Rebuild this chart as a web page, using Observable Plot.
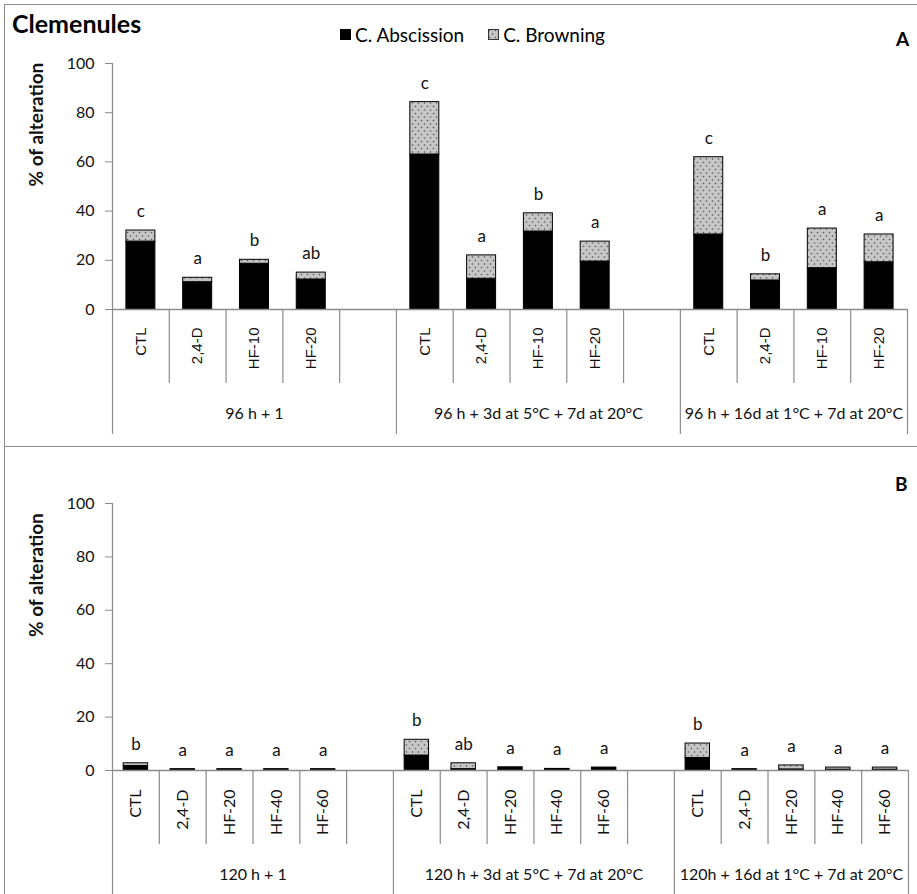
<!DOCTYPE html>
<html>
<head>
<meta charset="utf-8">
<script src="https://cdn.jsdelivr.net/npm/d3@7"></script>
<script src="https://cdn.jsdelivr.net/npm/@observablehq/plot@0.6"></script>
<style>
  body { margin: 0; background: #fff; }
  #root { position: relative; width: 917px; height: 894px; overflow: hidden; background: #fff; font-family: Lato, "Open Sans", sans-serif; color: #000; }
  .abs { position: absolute; white-space: nowrap; }
  .box { position: absolute; border: 1px solid #8c8c8c; box-sizing: border-box; }
</style>
</head>
<body>
<div id="root">
  <svg width="0" height="0" style="position:absolute">
    <defs>
      <pattern id="dots" width="6" height="7" patternUnits="userSpaceOnUse">
        <rect width="6" height="7" fill="#c6c6c6"></rect>
        <circle cx="1.5" cy="1.5" r="0.8" fill="#555"></circle>
        <circle cx="4.5" cy="5" r="0.8" fill="#555"></circle>
      </pattern>
    </defs>
  </svg>
  <div class="box" style="left:4px;top:4px;width:914px;height:443px;"></div>
  <div class="box" style="left:4px;top:446px;width:914px;height:460px;"></div>
  <div id="panelA" class="abs" style="left:0;top:0;"></div>
  <div id="panelB" class="abs" style="left:0;top:446px;"></div>
  <div class="abs" style="left:12px;top:11px;font-size:25px;line-height:25px;font-weight:bold;">Clemenules</div>
  <div class="abs" style="left:340px;top:25px;font-size:19px;line-height:19px;display:flex;align-items:center;">
    <span style="display:inline-block;width:11px;height:11px;background:#000;margin-right:4px;"></span>
    <span>C. Abscission</span>
    <svg width="11" height="11" style="margin-left:24px;margin-right:4px;"><rect x="0.5" y="0.5" width="10" height="10" fill="url(#dots)" stroke="#333"></rect></svg>
    <span>C. Browning</span>
  </div>
  <div class="abs" style="left:896px;top:29px;font-size:19px;line-height:19px;font-weight:bold;">A</div>
  <div class="abs" style="left:895px;top:474px;font-size:19px;line-height:19px;font-weight:bold;">B</div>
</div>
<script>
// ---------------- DATA ----------------
const seriesNames = ["C. Abscission", "C. Browning"];
const yTicks = [0, 20, 40, 60, 80, 100];
const yLabel = "% of alteration";

const groupsA = ["96 h + 1", "96 h + 3d at 5°C + 7d at 20°C", "96 h + 16d at 1°C + 7d at 20°C"];
const treatmentsA = ["CTL", "2,4-D", "HF-10", "HF-20"];
const abscissionA = [
  [27.6, 11.1, 18.6, 12.2],
  [63.0, 12.5, 31.7, 19.5],
  [30.5, 11.8, 16.8, 19.2]
];
const browningA = [
  [4.5, 1.8, 1.6, 2.8],
  [21.3, 9.5, 7.4, 8.1],
  [31.4, 2.5, 16.1, 11.3]
];
const lettersA = [
  ["c", "a", "b", "ab"],
  ["c", "a", "b", "a"],
  ["c", "b", "a", "a"]
];

const groupsB = ["120 h + 1", "120 h + 3d at 5°C + 7d at 20°C", "120h + 16d at 1°C + 7d at 20°C"];
const treatmentsB = ["CTL", "2,4-D", "HF-20", "HF-40", "HF-60"];
const abscissionB = [
  [1.7, 0.5, 0.5, 0.5, 0.5],
  [5.6, 0.5, 1.2, 0.4, 1.1],
  [4.7, 0.5, 0.4, 0.3, 0.3]
];
const browningB = [
  [1.0, 0, 0, 0, 0],
  [5.9, 2.2, 0, 0.2, 0],
  [5.4, 0, 1.5, 0.8, 0.8]
];
const lettersB = [
  ["b", "a", "a", "a", "a"],
  ["b", "ab", "a", "a", "a"],
  ["b", "a", "a", "a", "a"]
];

// ---------------- BUILD ----------------
function buildPanel(cfg) {
  const {groups, treatments, absc, brown, letters, height, marginTop, marginBottom, marginRight, inset, catFont, catSize, catDy} = cfg;
  const bars = [], slots = [], bounds = [{x: 0, long: true}], groupMeta = [];
  let i = 0;
  groups.forEach((g, gi) => {
    const start = i;
    treatments.forEach((t, ti) => {
      const a = absc[gi][ti], b = brown[gi][ti];
      bars.push({i, series: seriesNames[0], y1: 0, y2: a});
      bars.push({i, series: seriesNames[1], y1: a, y2: a + b});
      slots.push({i, t, total: a + b, letter: letters[gi][ti]});
      i++;
      bounds.push({x: i, long: false});
    });
    if (gi < groups.length - 1) { i++; bounds.push({x: i, long: false}); }
    bounds[bounds.length - 1].long = true;
    groupMeta.push({c: (start + i) / 2, label: g});
  });
  const n = i;
  const plotH = height - marginTop - marginBottom;
  const perUnit = plotH / 100;
  const shortU = -74 / perUnit, longU = -125 / perUnit;

  return Plot.plot({
    width: 917,
    height,
    marginLeft: 112,
    marginRight,
    marginTop,
    marginBottom,
    x: {domain: [0, n], axis: null},
    y: {domain: [0, 100], axis: null},
    color: {domain: seriesNames, range: ["#000", "url(#dots)"]},
    style: {fontFamily: "Lato, 'Open Sans', sans-serif", fontSize: "16px", background: "transparent", overflow: "visible", color: "#111"},
    marks: [
      Plot.ruleX([0], {stroke: "#8c8c8c", strokeWidth: 1.3}),
      Plot.axisY({ticks: yTicks, tickSize: 7, tickPadding: 11, fontSize: 16, stroke: "#8c8c8c", label: null, tickFormat: d => d}),
      Plot.text([yLabel], {frameAnchor: "left", rotate: -90, dx: -76, fontWeight: "bold", fontSize: 19}),
      Plot.rect(bars, {x1: "i", x2: d => d.i + 1, y1: "y1", y2: "y2", fill: "series", stroke: "#000", strokeWidth: 1, insetLeft: inset, insetRight: inset}),
      Plot.ruleY([0], {stroke: "#8c8c8c", strokeWidth: 1.3}),
      Plot.ruleX(bounds, {x: "x", y1: 0, y2: d => d.long ? longU : shortU, stroke: "#8c8c8c", strokeWidth: 1.2}),
      Plot.text(slots, {x: d => d.i + 0.5, y: "total", text: "letter", dy: -19, fontSize: 17}),
      Plot.text(slots, {x: d => d.i + 0.5, y: 0, text: "t", rotate: -90, textAnchor: "end", dy: catDy, fontSize: catSize, fontFamily: catFont}),
      Plot.text(groupMeta, {x: "c", y: 0, text: "label", dy: 104, fontSize: 16})
    ]
  });
}

document.getElementById("panelA").append(buildPanel({
  groups: groupsA, treatments: treatmentsA, absc: abscissionA, brown: browningA, letters: lettersA,
  height: 446, marginTop: 63, marginBottom: 137, marginRight: 10, inset: 13.9,
  catFont: "'Liberation Sans', Arial, sans-serif", catSize: 15, catDy: 18
}));
document.getElementById("panelB").append(buildPanel({
  groups: groupsB, treatments: treatmentsB, absc: abscissionB, brown: browningB, letters: lettersB,
  height: 448, marginTop: 57, marginBottom: 124, marginRight: 9, inset: 11.2,
  catFont: "Lato, sans-serif", catSize: 16, catDy: 19
}));
</script>
</body>
</html>
